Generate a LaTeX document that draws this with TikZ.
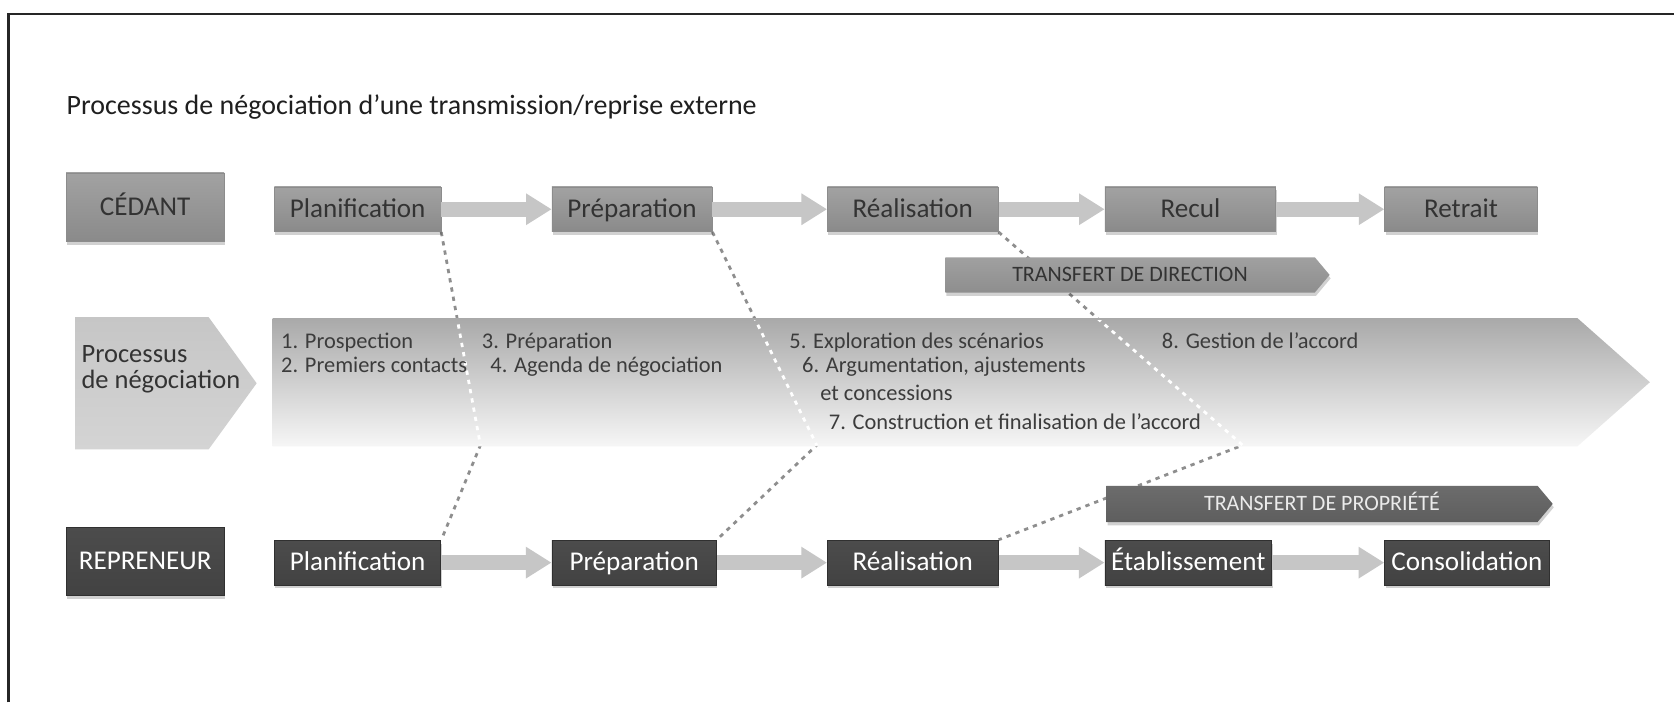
\documentclass[tikz,border=0pt]{standalone}
\usepackage{fontspec}
\setmainfont{Carlito}
\usetikzlibrary{shapes.symbols,shadows,arrows.meta,calc}

\definecolor{boxtop}{HTML}{A2A2A2}
\definecolor{boxmid}{HTML}{B8B8B8}
\definecolor{boxbot}{HTML}{8A8A8A}
\definecolor{boxline}{HTML}{8C8C8C}
\definecolor{darktop}{HTML}{4C4C4C}
\definecolor{darkmid}{HTML}{6A6A6A}
\definecolor{darkbot}{HTML}{424242}
\definecolor{darkline}{HTML}{303030}
\definecolor{flowgray}{HTML}{C6C6C6}
\definecolor{dotgray}{HTML}{8E8E8E}
\definecolor{inkgray}{HTML}{333333}
\definecolor{listgray}{HTML}{3C3C3C}
\definecolor{bandtop}{HTML}{A9A9A9}
\definecolor{bandmid}{HTML}{D2D2D2}
\definecolor{bandbot}{HTML}{F6F6F6}
\definecolor{pentop}{HTML}{C6C6C6}
\definecolor{penbot}{HTML}{D4D4D4}
\definecolor{dirtop}{HTML}{A0A0A0}
\definecolor{dirmid}{HTML}{BABABA}
\definecolor{dirbot}{HTML}{8E8E8E}
\definecolor{proptop}{HTML}{6C6C6C}
\definecolor{propmid}{HTML}{7E7E7E}
\definecolor{propbot}{HTML}{5E5E5E}

\pgfdeclarelayer{paper}
\pgfdeclarelayer{wires}
\pgfsetlayers{paper,wires,main}

\tikzset{
  boxshadow/.style={drop shadow={shadow xshift=0.5pt, shadow yshift=-1.6pt,
      fill=black, opacity=0.18}},
  boxtext/.style={font=\fontsize{12.7}{15}\selectfont, text height=8pt, text depth=0.4pt},
  lightbox/.style={rectangle, inner sep=0pt, top color=boxtop, middle color=boxmid,
      bottom color=boxbot, draw=boxline, line width=0.3pt, text=inkgray,
      boxtext, minimum height=21pt, boxshadow},
  darkbox/.style={rectangle, inner sep=0pt, top color=darktop, middle color=darkmid,
      bottom color=darkbot, draw=darkline, line width=0.4pt, text=white,
      boxtext, minimum height=21pt, boxshadow},
  flow/.style={draw=flowgray, line width=7pt, -{Triangle[length=12pt,width=14pt]}},
  dotline/.style={draw=dotgray, line width=1.3pt, dash pattern=on 2pt off 2.4pt},
  dotwhite/.style={draw=white, line width=1.3pt, dash pattern=on 2pt off 2.4pt},
  banner/.style={shape=signal, signal to=east, signal pointer angle=100, inner sep=0pt,
      anchor=west, font=\fontsize{10.3}{12}\selectfont, text height=6.6pt, text depth=0pt,
      boxshadow},
  listitem/.style={anchor=base west, inner sep=0pt, text=listgray,
      font=\fontsize{10.5}{12}\selectfont},
}

\begin{document}
\begin{tikzpicture}[x=0.5pt,y=-0.5pt]
\useasboundingbox (0,0) rectangle (1568,658);
\begin{pgfonlayer}{paper}
  \fill[white] (0,0) rectangle (1568,658);
\end{pgfonlayer}

% frame (top and left rules)
\draw[line width=1.1pt, draw=black!85] (8,658) -- (8,13) -- (1568,13);

% title
\node[anchor=base west, inner sep=0pt, text=black!88, font=\fontsize{13.1}{15}\selectfont]
  (title) at (62,107) {Processus de négociation d’une transmission/reprise externe};

% seller row
\node[lightbox, minimum width=74pt, minimum height=32pt] (ced) at (136,194) {CÉDANT};
\node[lightbox, minimum width=78pt] (tPlan) at (335,196) {Planification};
\node[lightbox, minimum width=75pt] (tPrep) at (592,196) {Préparation};
\node[lightbox, minimum width=80pt] (tReal) at (855,196) {Réalisation};
\node[lightbox, minimum width=80pt] (tRecul) at (1115,196) {Recul};
\node[lightbox, minimum width=71.5pt] (tRet) at (1368.5,196) {Retrait};

\draw[flow] (tPlan.east) -- (tPrep.west);
\draw[flow] (tPrep.east) -- (tReal.west);
\draw[flow] (tReal.east) -- (tRecul.west);
\draw[flow] (tRecul.east) -- (tRet.west);

% buyer row
\node[darkbox, minimum width=74pt, minimum height=32pt] (rep) at (136,526) {REPRENEUR};
\node[darkbox, minimum width=78pt] (bPlan) at (335,527) {Planification};
\node[darkbox, minimum width=77pt] (bPrep) at (594,527) {Préparation};
\node[darkbox, minimum width=80pt] (bReal) at (855,527) {Réalisation};
\node[darkbox, minimum width=78pt] (bEtab) at (1113,527) {Établissement};
\node[darkbox, minimum width=77pt] (bCons) at (1374,527) {Consolidation};

\draw[flow] (bPlan.east) -- (bPrep.west);
\draw[flow] (bPrep.east) -- (bReal.west);
\draw[flow] (bReal.east) -- (bEtab.west);
\draw[flow] (bEtab.east) -- (bCons.west);

% negotiation band
\node[shape=signal, signal to=east, signal pointer angle=108, inner sep=0pt, anchor=west,
      minimum width=85pt, minimum height=62pt, top color=pentop, bottom color=penbot]
  (procshape) at (70,359) {};
\node[anchor=west, align=left, inner sep=0pt, text=inkgray,
      font=\fontsize{12.4}{12}\selectfont] (proclabel) at (76,346) {Processus\\de négociation};
\node[shape=signal, signal to=east, signal pointer angle=83, inner sep=0pt, anchor=west,
      minimum width=645pt, minimum height=60pt, top color=bandtop, middle color=bandmid,
      bottom color=bandbot] (band) at (255,358) {};

% phase links between the two rows
\coordinate (k1) at (450,417);
\coordinate (k2) at (765,417);
\coordinate (k3) at (1164,417);
\begin{pgfonlayer}{wires}
  \draw[dotline] (tPlan.south east) -- (k1) -- (bPlan.north east);
  \draw[dotline] (tPrep.south east) -- (k2) -- (bPrep.north east);
  \draw[dotline] (tReal.south east) -- (k3) -- (bReal.north east);
\end{pgfonlayer}
\begin{scope}
  \clip (255,300) rectangle (1545,417);
  \draw[dotwhite] (tPlan.south east) -- (k1);
  \draw[dotwhite] (tPrep.south east) -- (k2);
  \draw[dotwhite] (tReal.south east) -- (k3);
\end{scope}

% negotiation steps
\node[listitem] (s1) at (263,326) {1. Prospection};
\node[listitem] (s2) at (263,349) {2. Premiers contacts};
\node[listitem] (s3) at (451,326) {3. Préparation};
\node[listitem] (s4) at (459,349) {4. Agenda de négociation};
\node[listitem] (s5) at (739,326) {5. Exploration des scénarios};
\node[listitem] (s6) at (751,349) {6. Argumentation, ajustements};
\node[listitem] (s6b) at (768,375) {et concessions};
\node[listitem] (s7) at (776,402) {7. Construction et finalisation de l’accord};
\node[listitem] (s8) at (1088,326) {8. Gestion de l’accord};

% transfers
\node[banner, top color=dirtop, middle color=dirmid, bottom color=dirbot, text=inkgray,
      minimum width=180pt, minimum height=16.5pt]
  (tdd) at (885,257.5) {TRANSFERT DE DIRECTION};
\node[banner, top color=proptop, middle color=propmid, bottom color=propbot, text=white!92!black,
      minimum width=209pt, minimum height=17pt]
  (tdp) at (1036,472) {TRANSFERT DE PROPRIÉTÉ};
\end{tikzpicture}
\end{document}
